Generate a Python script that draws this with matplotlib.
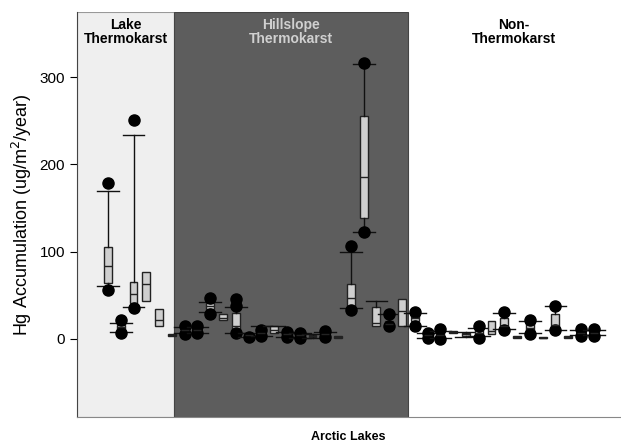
import matplotlib
matplotlib.use("Agg")
import matplotlib.pyplot as plt

plt.rcParams["font.family"] = ["Liberation Sans", "DejaVu Sans"]

# box statistics per lake, left to right (ug/m2/year)
q1 =     [64, 11, 41, 43, 14, 3,  8,  8, 34, 21, 10, 3, 5,  7, 3, 2, 2, 3, 1, 30, 139, 14, 14, 14, 20, 2, 2, 7, 3, 5,  5, 12, 1,  7, 0.5, 14, 1, 5, 5]
med =    [84, 13, 51, 63, 21, 4, 10, 10, 38, 24, 15, 4, 7, 10, 5, 4, 3, 5, 2, 47, 186, 18, 17, 32, 24, 4, 4, 8, 5, 7,  9, 14, 2, 12, 1,   16, 2, 7, 7]
q3 =     [105, 16, 65, 77, 34, 5, 12, 12, 41, 28, 30, 6, 9, 14, 7, 6, 4, 7, 3, 63, 256, 36, 20, 46, 28, 6, 7, 9, 7, 10, 20, 24, 3, 18, 2,  28, 3, 9, 9]
whislo = [61, 8, 36, 43, 14, 3,  6,  6, 31, 21, 7, 2, 3,  7, 2, 1, 1, 3, 1, 35, 123, 14, 14, 14, 15, 1, 1, 7, 2, 3,  5, 11, 1,  6, 0.5, 10, 1, 4, 4]
whishi = [170, 18, 234, 77, 34, 5, 13, 13, 42, 28, 36, 7, 15, 15, 8, 7, 5, 8, 3, 99, 315, 43, 28, 46, 30, 7, 9, 9, 8, 12, 20, 30, 3, 20, 2, 37, 3, 10, 10]
dots = [[56, 179], [6, 21], [35, 251], [], [], [], [5, 15], [6, 14], [28, 47], [],
        [7, 37, 45], [2], [3, 10], [], [2, 8], [1, 7], [], [2, 9], [], [33, 106],
        [123, 317], [], [14, 28], [], [15, 31], [1, 7], [0, 11], [], [], [1, 14],
        [], [10, 31], [], [5, 22], [], [10, 38], [], [3, 11], [3, 11]]

groups = ["Lake\nThermokarst", "Hillslope\nThermokarst", "Non-\nThermokarst"]
group_edges = [-1.42, 6.2, 24.46, 41.03]

positions = list(range(1, len(med) + 1))
stats = []
for i in range(len(med)):
    stats.append(dict(med=med[i], q1=q1[i], q3=q3[i], whislo=whislo[i],
                      whishi=whishi[i], fliers=dots[i]))

fig = plt.figure(figsize=(6.21, 4.47), dpi=100)
ax = fig.add_axes([0.124, 0.067, 0.874, 0.906])

ax.axvspan(group_edges[0], group_edges[1], facecolor="#efefef", edgecolor="#999999", lw=0.8, zorder=0)
ax.axvspan(group_edges[1], group_edges[2], facecolor="#5d5d5d", edgecolor="#444444", lw=0.8, zorder=0)

bp = ax.bxp(stats, positions=positions, widths=0.62, capwidths=1.7, patch_artist=True,
            showfliers=True,
            boxprops=dict(facecolor="#cfcfcf", edgecolor="#222222", linewidth=1.0),
            medianprops=dict(color="#222222", linewidth=1.0),
            whiskerprops=dict(color="#111111", linewidth=1.0),
            capprops=dict(color="#111111", linewidth=1.0),
            flierprops=dict(marker="o", markerfacecolor="black", markeredgecolor="black", markersize=8))

# no cap where the whisker has no length
for i in range(len(med)):
    if whislo[i] == q1[i]:
        bp["caps"][2 * i].set_visible(False)
    if whishi[i] == q3[i]:
        bp["caps"][2 * i + 1].set_visible(False)

label_colors = ["black", "#d0d0d0", "black"]
for j, g in enumerate(groups):
    xc = (group_edges[j] + group_edges[j + 1]) / 2
    ax.text(xc, 368, g, ha="center", va="top", fontsize=10, fontweight="bold",
            color=label_colors[j], linespacing=1.0)

ax.set_xlim(group_edges[0], group_edges[-1])
ax.set_ylim(-90, 375)
ax.set_yticks([0, 100, 200, 300])
ax.set_xticks([])
ax.tick_params(axis="y", labelsize=11, length=5, direction="out")
ax.set_ylabel("Hg Accumulation (ug/m$^2$/year)", fontsize=13)
ax.set_xlabel("Arctic Lakes", fontsize=9, fontweight="bold", labelpad=10)
for s in ["top", "right"]:
    ax.spines[s].set_visible(False)
ax.spines["left"].set_color("#444444")
ax.spines["bottom"].set_color("#888888")

fig.savefig("out.png", dpi=100)
